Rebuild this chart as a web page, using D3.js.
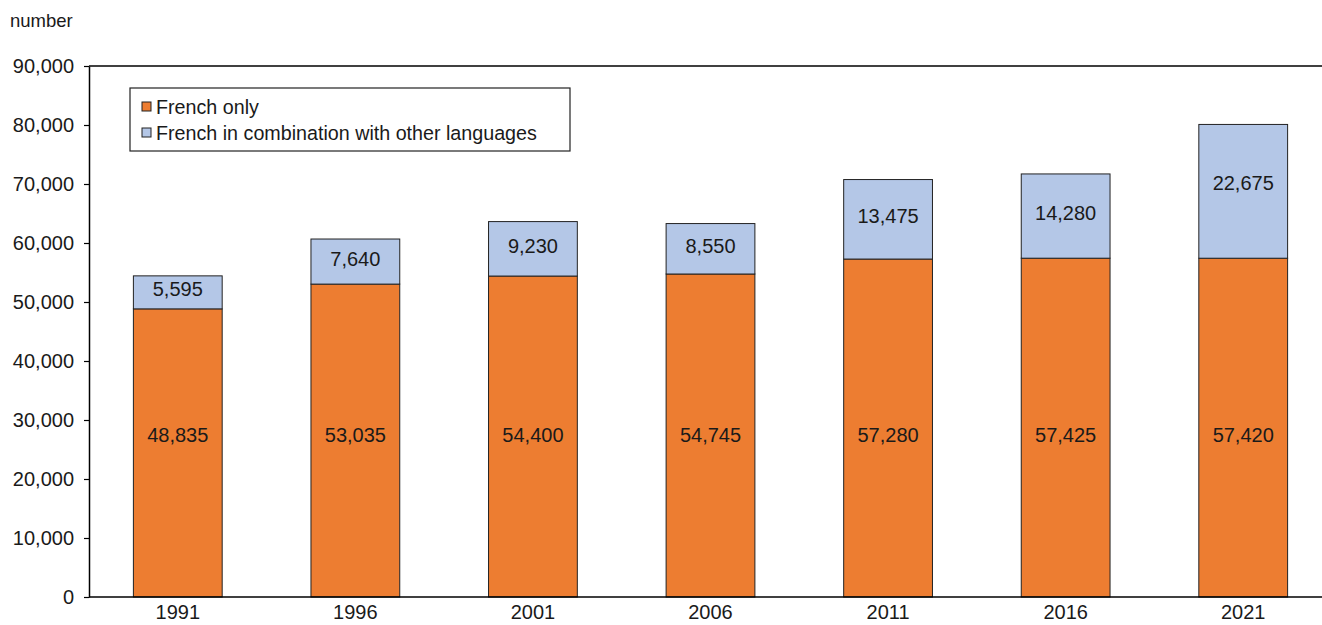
<!DOCTYPE html>
<html>
<head>
<meta charset="utf-8">
<script src="https://cdn.jsdelivr.net/npm/d3@7"></script>
<style>
  body { margin: 0; background: #fff; }
  svg text { font-family: "Liberation Sans", Arial, sans-serif; fill: #1a1a1a; }
</style>
</head>
<body>
<div id="chart"></div>
<script>
const years = ['1991', '1996', '2001', '2006', '2011', '2016', '2021'];
const frenchOnly = [48835, 53035, 54400, 54745, 57280, 57425, 57420];
const frenchCombo = [5595, 7640, 9230, 8550, 13475, 14280, 22675];
const yTicks = [0, 10000, 20000, 30000, 40000, 50000, 60000, 70000, 80000, 90000];
const seriesNames = ['French only', 'French in combination with other languages'];
const colors = ['#ED7D31', '#B4C7E7'];

const W = 1322, H = 625;
const margin = {top: 66, right: 0, bottom: 28, left: 89};
const width = W - margin.left - margin.right;
const height = H - margin.top - margin.bottom;
const bandRange = 1243; // plot runs a little past the right edge

const svg = d3.select('#chart').append('svg')
    .attr('width', W)
    .attr('height', H);

const g = svg.append('g')
    .attr('transform', `translate(${margin.left},${margin.top})`);

const x = d3.scaleBand()
    .domain(years)
    .range([0, bandRange])
    .paddingInner(0.5)
    .paddingOuter(0.25);

const y = d3.scaleLinear()
    .domain([0, 90000])
    .range([height, 0]);

const fmt = d3.format(',');

// top frame line
g.append('line')
    .attr('x1', 0).attr('x2', width)
    .attr('y1', 0).attr('y2', 0)
    .attr('stroke', '#000').attr('stroke-width', 1.5);

const data = years.map((yr, i) => ({year: yr, a: frenchOnly[i], b: frenchCombo[i]}));

// French only
g.selectAll('.barA')
    .data(data)
    .join('rect')
    .attr('class', 'barA')
    .attr('x', d => x(d.year))
    .attr('width', x.bandwidth())
    .attr('y', d => y(d.a))
    .attr('height', d => y(0) - y(d.a))
    .attr('fill', colors[0])
    .attr('stroke', '#222')
    .attr('stroke-width', 1);

// French in combination
g.selectAll('.barB')
    .data(data)
    .join('rect')
    .attr('class', 'barB')
    .attr('x', d => x(d.year))
    .attr('width', x.bandwidth())
    .attr('y', d => y(d.a + d.b))
    .attr('height', d => y(d.a) - y(d.a + d.b))
    .attr('fill', colors[1])
    .attr('stroke', '#222')
    .attr('stroke-width', 1);

// labels
g.selectAll('.labA')
    .data(data)
    .join('text')
    .attr('class', 'labA')
    .attr('x', d => x(d.year) + x.bandwidth() / 2)
    .attr('y', y(27500))
    .attr('text-anchor', 'middle')
    .attr('dominant-baseline', 'central')
    .style('font-size', '20px')
    .text(d => fmt(d.a));

g.selectAll('.labB')
    .data(data)
    .join('text')
    .attr('class', 'labB')
    .attr('x', d => x(d.year) + x.bandwidth() / 2)
    .attr('y', d => (y(d.a) + y(d.a + d.b)) / 2 - (d.b > 20000 ? 8 : 3))
    .attr('text-anchor', 'middle')
    .attr('dominant-baseline', 'central')
    .style('font-size', '20px')
    .text(d => fmt(d.b));

// axes
const yAxis = g.append('g')
    .call(d3.axisLeft(y).tickValues(yTicks).tickFormat(fmt).tickSize(5).tickSizeOuter(0).tickPadding(10));
yAxis.select('.domain').attr('stroke', '#000').attr('stroke-width', 1.5);
yAxis.selectAll('.tick line').attr('stroke', '#000').attr('stroke-width', 1.2);
yAxis.selectAll('.tick text').style('font-size', '20px').attr('fill', '#1a1a1a')
    .style('font-family', '"Liberation Sans", Arial, sans-serif');

const xAxis = g.append('g')
    .attr('transform', `translate(0,${height})`)
    .call(d3.axisBottom(x).tickSize(0).tickSizeOuter(0).tickPadding(8));
xAxis.select('.domain').attr('d', `M0,0H${width}`).attr('stroke', '#000').attr('stroke-width', 1.5);
xAxis.selectAll('.tick text').style('font-size', '20px').attr('fill', '#1a1a1a')
    .style('font-family', '"Liberation Sans", Arial, sans-serif');

// unit label
svg.append('text')
    .attr('x', 10).attr('y', 27)
    .style('font-size', '18.5px')
    .text('number');

// legend
const legend = svg.append('g').attr('transform', 'translate(130,88)');
legend.append('rect')
    .attr('width', 440).attr('height', 63)
    .attr('fill', '#fff').attr('stroke', '#222').attr('stroke-width', 1.2);
seriesNames.forEach((name, i) => {
    legend.append('rect')
        .attr('x', 12).attr('y', 14 + i * 26)
        .attr('width', 9).attr('height', 9)
        .attr('fill', colors[i]).attr('stroke', '#222').attr('stroke-width', 1);
    legend.append('text')
        .attr('x', 26).attr('y', 19 + i * 26)
        .attr('dominant-baseline', 'central')
        .style('font-size', '19.7px')
        .text(name);
});
</script>
</body>
</html>
